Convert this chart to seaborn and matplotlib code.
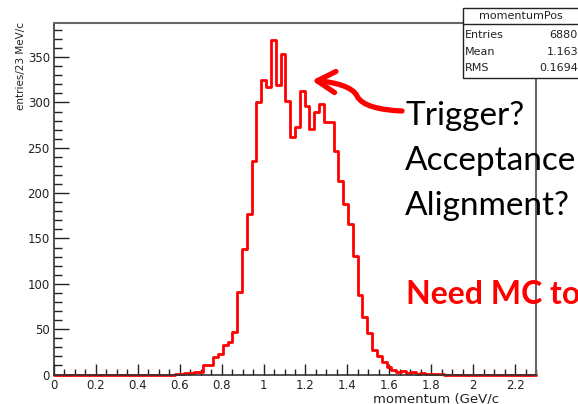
import numpy as np
import pandas as pd
import matplotlib
matplotlib.use("Agg")
import matplotlib.pyplot as plt
from matplotlib.patches import Rectangle, FancyArrowPatch
from matplotlib.path import Path
from matplotlib.lines import Line2D
from matplotlib.ticker import MultipleLocator, FormatStrFormatter
import seaborn as sns

# ---------------- data ----------------
x_min, x_max, n_bins = 0.0, 2.3, 100
bin_counts = [0] * 25 + [
    1, 1, 2, 2, 3, 3,                      # bins 25-30
    10, 10, 19, 23, 33, 36, 47, 91, 138, 177,   # 31-40
    235, 300, 325, 317, 369, 319, 354, 302, 262, 273,  # 41-50
    313, 296, 271, 290, 298, 279, 279, 246, 213, 188,  # 51-60
    166, 131, 88, 63, 46, 27, 20, 14, 8, 5,    # 61-70
    3, 4, 2, 3, 1, 2, 1, 1, 1, 1,             # 71-80
] + [0] * 19
x_ticks = [0, 0.2, 0.4, 0.6, 0.8, 1.0, 1.2, 1.4, 1.6, 1.8, 2.0, 2.2]
y_ticks = [0, 50, 100, 150, 200, 250, 300, 350]
y_max = 388
stats_title = "momentumPos"
stats_names = ["Entries", "Mean", "RMS"]
stats_values = ["6880", "1.163", "0.1694"]
notes = ["Trigger?", "Acceptance", "Alignment?"]
conclusion = "Need MC to"
x_label = "momentum (GeV/c"
y_label = "entries/23 MeV/c"

edges = np.linspace(x_min, x_max, n_bins + 1)
centers = 0.5 * (edges[:-1] + edges[1:])
df = pd.DataFrame({"momentum": centers, "count": bin_counts})

# ---------------- figure ----------------
sns.set_theme(style="white")
plt.rcParams["font.family"] = ["DejaVu Sans"]
W, H = 578, 404
fig = plt.figure(figsize=(W / 100, H / 100), dpi=100)
fig.patch.set_facecolor("white")


def fx(px):
    return px / W


def fy(py):
    return 1 - py / H


ax_l, ax_r, ax_t, ax_b = 54, 536, 22.7, 374.5
ax = fig.add_axes([fx(ax_l), fy(ax_b), (ax_r - ax_l) / W, (ax_b - ax_t) / H])
ax.set_facecolor("white")

sns.histplot(data=df, x="momentum", weights="count", bins=n_bins,
             binrange=(x_min, x_max),
             element="step", fill=False, color="#ff0000", linewidth=2.0, ax=ax)
for ln in ax.lines:
    ln.set_clip_on(False)

ax.set_xlim(x_min, x_max)
ax.set_ylim(0, y_max)
ax.set_xticks(x_ticks)
ax.set_yticks(y_ticks)
ax.xaxis.set_major_formatter(FormatStrFormatter("%g"))
ax.xaxis.set_minor_locator(MultipleLocator(0.05))
ax.yaxis.set_minor_locator(MultipleLocator(10))
ax.set_xlabel("")
ax.set_ylabel("")

ax.tick_params(axis="x", which="major", direction="in", length=8, width=1.0,
               color="#222222", labelsize=8.5, pad=3.5, top=False, bottom=True)
ax.tick_params(axis="x", which="minor", direction="in", length=4, width=1.0,
               color="#222222", top=False, bottom=True)
ax.tick_params(axis="y", which="major", direction="in", length=11, width=1.0,
               color="#222222", labelsize=8.5, pad=3, right=False, left=True)
ax.tick_params(axis="y", which="minor", direction="in", length=6, width=1.0,
               color="#222222", right=False, left=True)
for lab in ax.get_xticklabels() + ax.get_yticklabels():
    lab.set_color("#222222")

for side in ["left", "bottom"]:
    ax.spines[side].set_color("#333333")
    ax.spines[side].set_linewidth(1.2)
for side in ["top", "right"]:
    ax.spines[side].set_color("#666666")
    ax.spines[side].set_linewidth(1.5)

# axis titles
fig.text(fx(373), fy(402), x_label, ha="left", va="baseline",
         fontsize=9.5, color="#222222")
fig.text(fx(21), fy(22), y_label, rotation=90, ha="center", va="top",
         fontsize=7.5, color="#222222")

# stats box
box_l, box_t, box_b = 462.7, 8.3, 78
fig.patches.append(Rectangle((fx(box_l), fy(box_b)), fx(640 - box_l), (box_b - box_t) / H,
                             transform=fig.transFigure, facecolor="white",
                             edgecolor="#222222", linewidth=1.0, zorder=5))
fig.lines.append(Line2D([fx(box_l), fx(640)], [fy(24), fy(24)],
                        transform=fig.transFigure, color="#222222", lw=1.0, zorder=6))
fig.text(fx(521), fy(16), stats_title, ha="center", va="center",
         fontsize=8, color="#222222", zorder=7)
for i, (nm, val) in enumerate(zip(stats_names, stats_values)):
    yy = 35 + i * 16.7
    fig.text(fx(465), fy(yy), nm, ha="left", va="center", fontsize=8,
             color="#222222", zorder=7)
    fig.text(fx(578), fy(yy), val, ha="right", va="center", fontsize=8,
             color="#222222", zorder=7)

# slide annotations
for i, t in enumerate(notes):
    fig.text(fx(405), fy(125 + i * 45), t, ha="left", va="baseline",
             fontsize=24, family=["Lato", "DejaVu Sans"], color="black", zorder=8)
fig.text(fx(406), fy(304), conclusion, ha="left", va="baseline",
         fontsize=23, family=["Lato", "DejaVu Sans"], fontweight="bold",
         color="#ff0000", zorder=8)

pts = [(402, 111), (380, 110), (362, 106), (357, 96),
       (353, 87), (335, 82), (312, 80.5)]
codes = [Path.MOVETO, Path.CURVE4, Path.CURVE4, Path.CURVE4,
         Path.CURVE4, Path.CURVE4, Path.CURVE4]
path = Path([(fx(a), fy(b)) for a, b in pts], codes)
arrow = FancyArrowPatch(path=path, arrowstyle="->,head_length=0.65,head_width=0.38",
                        mutation_scale=20, color="#ff0000", lw=3.8,
                        transform=fig.transFigure, zorder=9,
                        capstyle="round", joinstyle="round")
fig.patches.append(arrow)

fig.savefig("out.png", dpi=100, facecolor="white")
